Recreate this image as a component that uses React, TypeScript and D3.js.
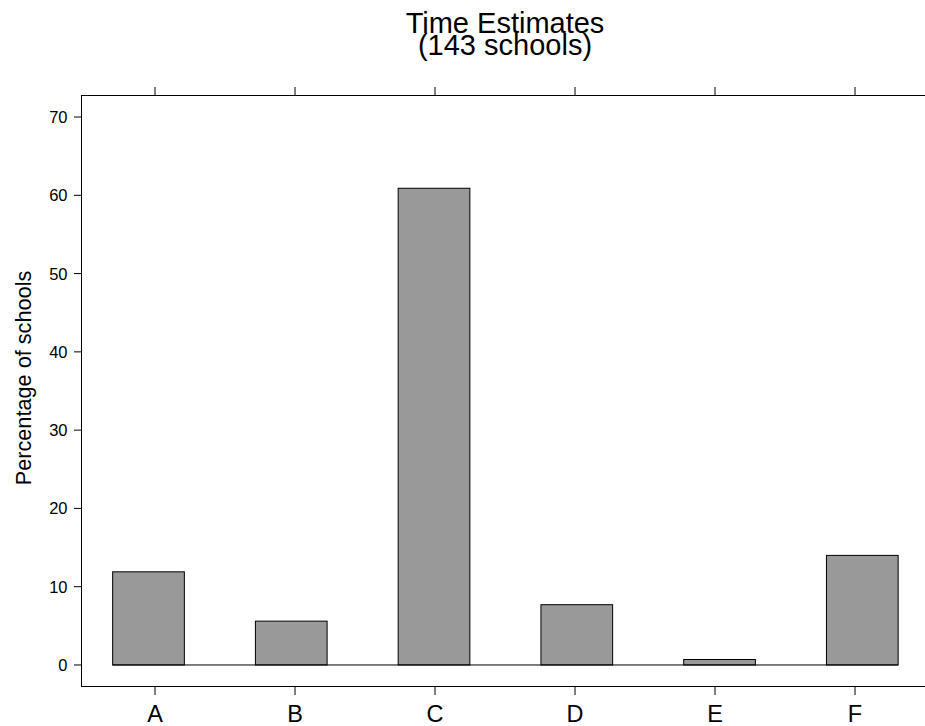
import * as d3 from 'd3';
import React, { useRef, useEffect } from 'react';

const categories = ['A', 'B', 'C', 'D', 'E', 'F'];
const percents = [11.9, 5.6, 60.9, 7.7, 0.7, 14.0];
const yTicks = [0, 10, 20, 30, 40, 50, 60, 70];
const titleLines = ['Time Estimates', '(143 schools)'];
const yTitle = 'Percentage of schools';

const App = () => {
  const ref = useRef<SVGSVGElement>(null);
  const width = 925,
    height = 726;
  const panel = { left: 81.5, right: 928.5, top: 95.5, bottom: 686.5 };
  const font = '"Liberation Sans", Arial, Helvetica, sans-serif';

  useEffect(() => {
    const svg = d3.select(ref.current);
    svg.selectAll('*').remove();

    // tick positions and bar positions don't line up exactly in the original
    const xTick = d3.scalePoint<string>().domain(categories).range([155, 855]);
    const xBar = d3.scalePoint<string>().domain(categories).range([148.5, 862.3]);
    const barW = 71.7;

    const y = d3.scaleLinear()
      .domain([-2.75, 72.75])
      .range([panel.bottom, panel.top]);

    // bars
    svg.append('g')
      .selectAll('rect')
      .data(categories)
      .join('rect')
      .attr('x', (d) => xBar(d)! - barW / 2)
      .attr('y', (d, i) => y(percents[i]))
      .attr('width', barW)
      .attr('height', (d, i) => y(0) - y(percents[i]))
      .attr('fill', '#999999')
      .attr('stroke', '#000')
      .attr('stroke-width', 1);

    // origin line
    svg.append('line')
      .attr('x1', xBar(categories[0])! - barW / 2)
      .attr('x2', xBar(categories[categories.length - 1])! + barW / 2)
      .attr('y1', y(0))
      .attr('y2', y(0))
      .attr('stroke', '#000');

    // panel frame
    svg.append('rect')
      .attr('x', panel.left)
      .attr('y', panel.top)
      .attr('width', panel.right - panel.left)
      .attr('height', panel.bottom - panel.top)
      .attr('fill', 'none')
      .attr('stroke', '#000');

    // left axis
    const yAxis = svg.append('g');
    yAxis.selectAll('line')
      .data(yTicks)
      .join('line')
      .attr('x1', panel.left - 7.5)
      .attr('x2', panel.left)
      .attr('y1', (d) => y(d))
      .attr('y2', (d) => y(d))
      .attr('stroke', '#000');
    yAxis.selectAll('text')
      .data(yTicks)
      .join('text')
      .attr('x', 67.5)
      .attr('y', (d) => y(d))
      .attr('dy', '0.36em')
      .attr('text-anchor', 'end')
      .style('font-family', font)
      .style('font-size', '16.5px')
      .text((d) => d);

    // top and bottom ticks
    const xAxis = svg.append('g');
    xAxis.selectAll('line.top')
      .data(categories)
      .join('line')
      .attr('class', 'top')
      .attr('x1', (d) => xTick(d)!)
      .attr('x2', (d) => xTick(d)!)
      .attr('y1', panel.top - 8.5)
      .attr('y2', panel.top)
      .attr('stroke', '#000');
    xAxis.selectAll('line.bottom')
      .data(categories)
      .join('line')
      .attr('class', 'bottom')
      .attr('x1', (d) => xTick(d)!)
      .attr('x2', (d) => xTick(d)!)
      .attr('y1', panel.bottom)
      .attr('y2', panel.bottom + 8.5)
      .attr('stroke', '#000');
    xAxis.selectAll('text')
      .data(categories)
      .join('text')
      .attr('x', (d) => xTick(d)!)
      .attr('y', 722)
      .attr('text-anchor', 'middle')
      .style('font-family', font)
      .style('font-size', '23.5px')
      .text((d) => d);

    // title
    svg.append('g')
      .selectAll('text')
      .data(titleLines)
      .join('text')
      .attr('x', 505)
      .attr('y', (d, i) => 33 + i * 22)
      .attr('text-anchor', 'middle')
      .style('font-family', font)
      .style('font-size', '29px')
      .text((d) => d);

    // y axis title
    svg.append('text')
      .attr('transform', 'translate(31,378) rotate(-90)')
      .attr('text-anchor', 'middle')
      .style('font-family', font)
      .style('font-size', '21.7px')
      .text(yTitle);
  });

  return (
    <svg
      ref={ref}
      width={width}
      height={height}
      style={{ position: 'absolute', left: 0, top: 0, background: '#fff' }}
    ></svg>
  );
};

export default App;
